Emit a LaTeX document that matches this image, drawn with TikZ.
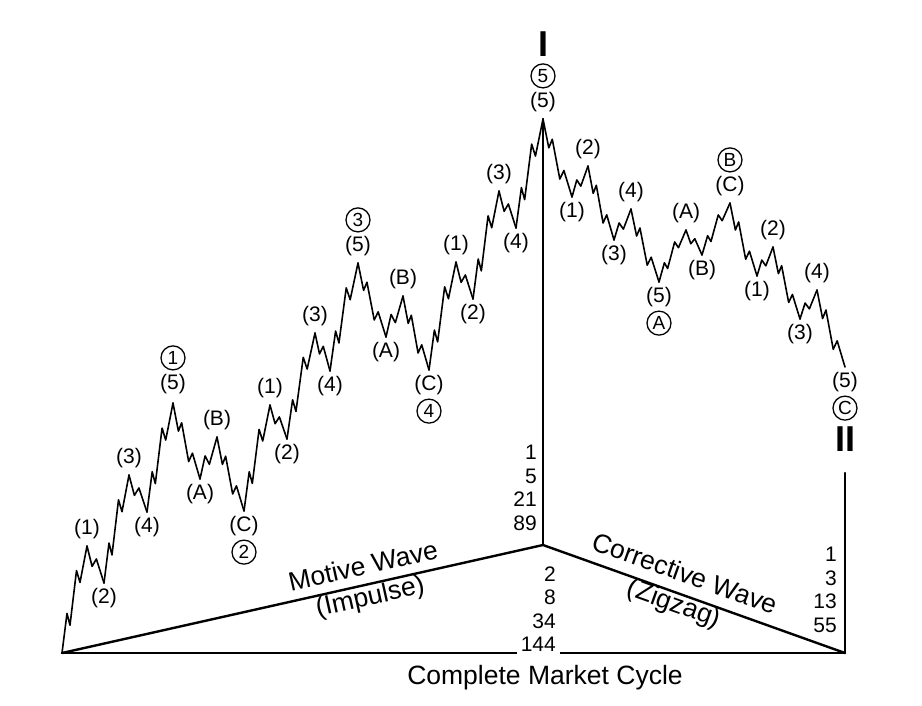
\documentclass[tikz,border=0pt]{standalone}
\usepackage{fontspec}
\setmainfont{Liberation Sans}
\usetikzlibrary{positioning,calc}

% a five-leg (motive) and a three-leg (corrective) piece between two points
\newcommand{\impwave}[2]{%
  \draw [wave] let \p1 = (#1), \p2 = (#2) in
    (\p1) -- ({\x1+0.20*(\x2-\x1)},{\y1+0.37*(\y2-\y1)})
          -- ({\x1+0.32*(\x2-\x1)},{\y1+0.26*(\y2-\y1)})
          -- ({\x1+0.58*(\x2-\x1)},{\y1+0.77*(\y2-\y1)})
          -- ({\x1+0.72*(\x2-\x1)},{\y1+0.66*(\y2-\y1)})
          -- (\p2);}
\newcommand{\corwave}[2]{%
  \draw [wave] let \p1 = (#1), \p2 = (#2) in
    (\p1) -- ({\x1+0.30*(\x2-\x1)},{\y1+0.55*(\y2-\y1)})
          -- ({\x1+0.55*(\x2-\x1)},{\y1+0.35*(\y2-\y1)})
          -- (\p2);}

\begin{document}
\begin{tikzpicture}[ x=1pt, y=-1pt
                   , wave/.style={line width=1.6pt, line join=round, line cap=round}
                   , frame/.style={line width=2.4pt, line cap=round}
                   , lbl/.style={font=\fontsize{21}{25}\selectfont, inner sep=1pt}
                   , circ/.style={draw, circle, line width=1.3pt, minimum size=24pt, inner sep=0pt, font=\fontsize{19}{21}\selectfont}
                   , roman/.style={font=\fontsize{36}{40}\selectfont\bfseries, inner sep=1pt}
                   , nums/.style={align=right, font=\fontsize{21}{23.5}\selectfont, inner sep=1pt}
                   , caption/.style={align=center, font=\fontsize{26.5}{31}\selectfont, inner sep=0pt}
                   ]

      \useasboundingbox (0,0) rectangle (922,705);

      % motive wave points
      \coordinate (m0) at (62,653);
      \coordinate (m1) at (87,546);
      \coordinate (m2) at (104,583);
      \coordinate (m3) at (129,475);
      \coordinate (m4) at (147,512);
      \coordinate (m5) at (173,403);
      \coordinate (m6) at (200,479);
      \coordinate (m7) at (217,437);
      \coordinate (m8) at (244,511);
      \coordinate (m9) at (270,405);
      \coordinate (m10) at (287,439);
      \coordinate (m11) at (315,333);
      \coordinate (m12) at (330,371);
      \coordinate (m13) at (358,263);
      \coordinate (m14) at (386,337);
      \coordinate (m15) at (403,296);
      \coordinate (m16) at (429,370);
      \coordinate (m17) at (456,262);
      \coordinate (m18) at (473,299);
      \coordinate (m19) at (499,191);
      \coordinate (m20) at (516,228);
      \coordinate (m21) at (543,119);

      % corrective wave points
      \coordinate (c1) at (572,197);
      \coordinate (c2) at (588,166);
      \coordinate (c3) at (614,240);
      \coordinate (c4) at (631,209);
      \coordinate (c5) at (659,282);
      \coordinate (c6) at (686,230);
      \coordinate (c7) at (702,255);
      \coordinate (c8) at (730,203);
      \coordinate (c9) at (757,276);
      \coordinate (c10) at (773,247);
      \coordinate (c11) at (800,319);
      \coordinate (c12) at (817,290);
      \coordinate (c13) at (845,367);

      % frame
      \coordinate (apex) at (543,545);
      \coordinate (rgt) at (845,653);
      \coordinate (rtop) at (845,473);

      % the wave
      \impwave{m0}{m1}   \corwave{m1}{m2}   \impwave{m2}{m3}   \corwave{m3}{m4}   \impwave{m4}{m5}
      \impwave{m5}{m6}   \corwave{m6}{m7}   \impwave{m7}{m8}
      \impwave{m8}{m9}   \corwave{m9}{m10}  \impwave{m10}{m11} \corwave{m11}{m12} \impwave{m12}{m13}
      \impwave{m13}{m14} \corwave{m14}{m15} \impwave{m15}{m16}
      \impwave{m16}{m17} \corwave{m17}{m18} \impwave{m18}{m19} \corwave{m19}{m20} \impwave{m20}{m21}
      \impwave{m21}{c1}  \corwave{c1}{c2}   \impwave{c2}{c3}   \corwave{c3}{c4}   \impwave{c4}{c5}
      \impwave{c5}{c6}   \corwave{c6}{c7}   \impwave{c7}{c8}
      \impwave{c8}{c9}   \corwave{c9}{c10}  \impwave{c10}{c11} \corwave{c11}{c12} \impwave{c12}{c13}

      \draw [frame] (m21) -- (apex);
      \draw [frame] (m0) -- (apex) -- (rgt);
      \draw [frame] (m0) -- (rgt);
      \draw [frame] (rtop) -- (rgt);

      % labels, motive wave
      \node (t1) [lbl, above=6pt of m1] {(1)};
      \node (t2) [lbl, below=4pt of m2] {(2)};
      \node (t3) [lbl, above=6pt of m3] {(3)};
      \node (t4) [lbl, below=4pt of m4] {(4)};
      \node (t5) [lbl, above=8pt of m5] {(5)};
      \node (w1) [circ, above=2.5pt of t5] {1};
      \node (t6) [lbl, below=4pt of m6] {(A)};
      \node (t7) [lbl, above=6pt of m7] {(B)};
      \node (t8) [lbl, below=4pt of m8] {(C)};
      \node (w2) [circ, below=2.5pt of t8] {2};
      \node (t9) [lbl, above=6pt of m9] {(1)};
      \node (t10) [lbl, below=4pt of m10] {(2)};
      \node (t11) [lbl, above=6pt of m11] {(3)};
      \node (t12) [lbl, below=4pt of m12] {(4)};
      \node (t13) [lbl, above=6pt of m13] {(5)};
      \node (w3) [circ, above=2.5pt of t13] {3};
      \node (t14) [lbl, below=4pt of m14] {(A)};
      \node (t15) [lbl, above=6pt of m15] {(B)};
      \node (t16) [lbl, below=4pt of m16] {(C)};
      \node (w4) [circ, below=2.5pt of t16] {4};
      \node (t17) [lbl, above=6pt of m17] {(1)};
      \node (t18) [lbl, below=4pt of m18] {(2)};
      \node (t19) [lbl, above=6pt of m19] {(3)};
      \node (t20) [lbl, below=4pt of m20] {(4)};
      \node (t21) [lbl, above=6pt of m21] {(5)};
      \node (w5) [circ, above=2.5pt of t21] {5};
      \node (deg1) [roman, above=6pt of w5] {I};

      % labels, corrective wave
      \node (s1) [lbl, below=4pt of c1] {(1)};
      \node (s2) [lbl, above=6pt of c2] {(2)};
      \node (s3) [lbl, below=4pt of c3] {(3)};
      \node (s4) [lbl, above=6pt of c4] {(4)};
      \node (s5) [lbl, below=4pt of c5] {(5)};
      \node (wa) [circ, below=2.5pt of s5] {A};
      \node (s6) [lbl, above=6pt of c6] {(A)};
      \node (s7) [lbl, below=4pt of c7] {(B)};
      \node (s8) [lbl, above=6pt of c8] {(C)};
      \node (wb) [circ, above=2.5pt of s8] {B};
      \node (s9) [lbl, below=4pt of c9] {(1)};
      \node (s10) [lbl, above=6pt of c10] {(2)};
      \node (s11) [lbl, below=4pt of c11] {(3)};
      \node (s12) [lbl, above=6pt of c12] {(4)};
      \node (s13) [lbl, below=4pt of c13] {(5)};
      \node (wc) [circ, below=2.5pt of s13] {C};
      \node (deg2) [roman, below=5pt of wc] {II};

      % wave counts
      \node (cnt1) [nums, anchor=east] at (538,488) {1\\5\\21\\89};
      \node (cnt2) [nums, anchor=east, fill=white, inner sep=4pt] at (560,609) {2\\8\\34\\144};
      \node (cnt3) [nums, anchor=east] at (838,590) {1\\3\\13\\55};

      % captions
      \node (mot) [caption, rotate=12.6] at (367,583) {Motive Wave\\(Impulse)};
      \node (cor) [caption, rotate=-19.7] at (679,590) {Corrective Wave\\(Zigzag)};
      \node (cyc) [caption, anchor=base] at (545,684) {Complete Market Cycle};

  \end{tikzpicture}
\end{document}
